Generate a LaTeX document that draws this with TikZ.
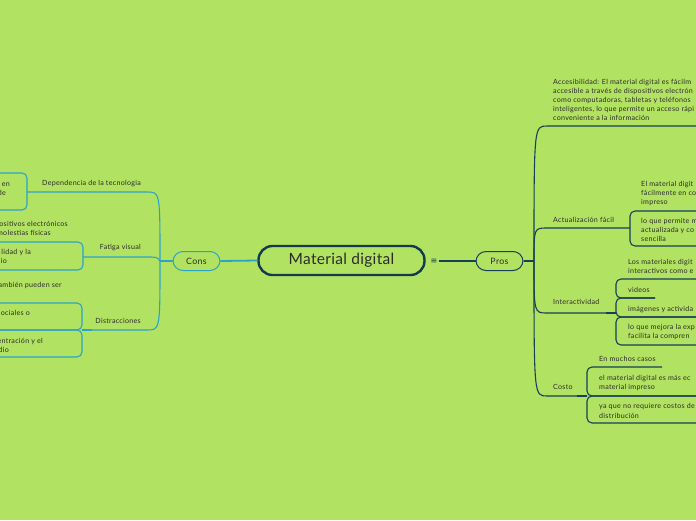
\documentclass[tikz,border=0pt]{standalone}
\usepackage{fontspec}
\usetikzlibrary{calc}
\setmainfont{Lato}
\newfontfamily\smfont[LetterSpace=4]{Lato}
\newfontfamily\bigfont[LetterSpace=2]{Lato}
\newfontfamily\symfont{DejaVu Sans}
\definecolor{bg}{HTML}{B2E262}
\definecolor{navy}{HTML}{143A50}
\definecolor{rline}{HTML}{173F57}
\definecolor{lteal}{HTML}{2AA4C6}
\definecolor{txt}{HTML}{2B2B2B}
\tikzset{
  sm/.style={font=\smfont\fontsize{7.1}{9}\selectfont, inner sep=0pt, text height=5pt, text depth=1.5pt, text=txt},
  rt/.style={sm, anchor=west},
  lt/.style={sm, anchor=east},
  pill/.style={rounded corners=10pt, minimum width=47pt, minimum height=19pt, line width=1pt, inner sep=0pt, font=\smfont\fontsize{8.8}{10}\selectfont, text=txt},
  rbr/.style={rline, line width=1.1pt},
  lbr/.style={lteal, line width=1.1pt},
  rbrb/.style={rbr, rounded corners=5pt},
  lbrb/.style={lbr, rounded corners=5pt}
}
\begin{document}
\begin{tikzpicture}[x=1pt,y=-1pt]
\fill[bg] (0,0) rectangle (696,520);
\useasboundingbox (0,0) rectangle (696,520);

% central
\node[draw=navy, line width=2.4pt, rounded corners=14pt, minimum width=166pt, minimum height=29pt, inner sep=0pt, font=\bigfont\fontsize{15.5}{17}\selectfont, text=txt] (main) at (341.5,260.5) {Material digital};
\node[font=\symfont\fontsize{8}{8}\selectfont, text=navy, inner sep=1pt] (eq) at (434,261) {≡};
\node[pill, draw=rline] (pros) at (499.5,261) {Pros};
\node[pill, draw=lteal] (cons) at (196.5,261) {Cons};
\draw[rline, line width=1.8pt] (eq.east) -- (pros.west);
\draw[lteal, line width=1.8pt] (main.west) -- (cons.east);

% ---------- right tree
\coordinate (rs) at (534,261);
\draw[rline, line width=2pt] (pros.east) -- (rs);
\coordinate (accend) at (700,126);
\coordinate (actb) at (630,228);
\coordinate (intb) at (616,313);
\coordinate (cosb) at (587,396);
\draw[rbr] (rs) .. controls (534,126) .. (547,126) -- (accend);
\draw[rbr] (rs) .. controls (534,228) .. (547,228) -- (actb);
\draw[rbr] (rs) .. controls (534,313) .. (547,313) -- (intb);
\draw[rbr] (rs) .. controls (534,396) .. (547,396) -- (cosb);
\draw[rline, line width=2.6pt] ($(intb)+(-10,0)$) -- (intb);
\draw[rline, line width=2.6pt] ($(cosb)+(-10,0)$) -- (cosb);

% Accesibilidad
\node[rt] (acc1) at (553,83) {Accesibilidad: El material digital es fácilm};
\node[rt] (acc2) at (553,92) {accesible a través de dispositivos electrón};
\node[rt] (acc3) at (553,101) {como computadoras, tabletas y teléfonos};
\node[rt] (acc4) at (553,110) {inteligentes, lo que permite un acceso rápi};
\node[rt] (acc5) at (553,119) {conveniente a la información};

% Actualizacion
\node[rt] (act) at (553,221) {Actualización fácil};
\draw[rbrb] (700,211) -| (630,246) -- (700,246);
\node[rt] (ac1) at (641,185) {El material digit};
\node[rt] (ac2) at (641,194) {fácilmente en co};
\node[rt] (ac3) at (641,203) {impreso};
\node[rt] (ac4) at (641,222) {lo que permite m};
\node[rt] (ac5) at (641,231) {actualizada y co};
\node[rt] (ac6) at (641,240) {sencilla};

% Interactividad
\node[rt] (int) at (553,303) {Interactividad};
\draw[rbrb] (700,279) -| (616,298) -- (655,298);
\draw[rbrb] (655,298) -| (616,317) -- (700,317);
\draw[rbrb] (700,317) -| (616,345) -- (700,345);
\node[rt] (in1) at (628,263) {Los materiales digit};
\node[rt] (in2) at (628,272) {interactivos como e};
\node[rt] (in3) at (628,291) {videos};
\node[rt] (in4) at (628,310) {imágenes y activida};
\node[rt] (in5) at (628,328) {lo que mejora la exp};
\node[rt] (in6) at (628,337) {facilita la compren};

% Costo
\node[rt] (cos) at (553,388) {Costo};
\draw[rbrb] (662,367) -| (587,396) -- (700,396);
\draw[rbrb] (700,396) -| (587,423) -- (700,423);
\node[rt] (co1) at (599,360) {En muchos casos};
\node[rt] (co2) at (599,379) {el material digital es más ec};
\node[rt] (co3) at (599,388) {material impreso};
\node[rt] (co4) at (599,407) {ya que no requiere costos de};
\node[rt] (co5) at (599,417) {distribución};

% ---------- left tree
\coordinate (ls) at (160,261);
\draw[lteal, line width=2pt] (cons.west) -- (ls);
\coordinate (depb) at (27,192);
\coordinate (fatb) at (83,257);
\coordinate (disb) at (82,330);
\draw[lbr] (ls) .. controls (160,192) .. (147,192) -- (depb);
\draw[lbr] (ls) .. controls (157,257) .. (146,257) -- (fatb);
\draw[lbr] (ls) .. controls (160,330) .. (147,330) -- (disb);
\draw[lteal, line width=2.6pt] (disb) -- ($(disb)+(10,0)$);

\node[lt] (dep) at (141,184) {Dependencia de la tecnologia};
\node[lt] (fat) at (141,248) {Fatiga visual};
\node[lt] (dis) at (141,322) {Distracciones};

% Dependencia box
\draw[lbrb] (-5,173) -| (27,210) -- (-5,210);
\node[lt] (de1) at (10,185) {en};
\node[lt] (de2) at (6,194) {de};

% Fatiga
\draw[lbrb] (-5,242) -| (83,270) -- (-5,270);
\node[lt] (fa1) at (68,225) {ositivos electrónicos};
\node[lt] (fa2) at (51,234) {molestias físicas};
\node[lt] (fa3) at (31,253) {lidad y la};
\node[lt] (fa4) at (7,262) {lio};

% Distracciones
\draw[lbrb] (-5,303) -| (82,330) -- (-5,330);
\draw[lbrb] (-5,330) -| (82,357) -- (-5,357);
\node[lt] (di1) at (62,286) {ambién pueden ser};
\node[lt] (di2) at (30,314) {ociales o};
\node[lt] (di3) at (43,342) {entración y el};
\node[lt] (di4) at (9,351) {dio};
\end{tikzpicture}
\end{document}
